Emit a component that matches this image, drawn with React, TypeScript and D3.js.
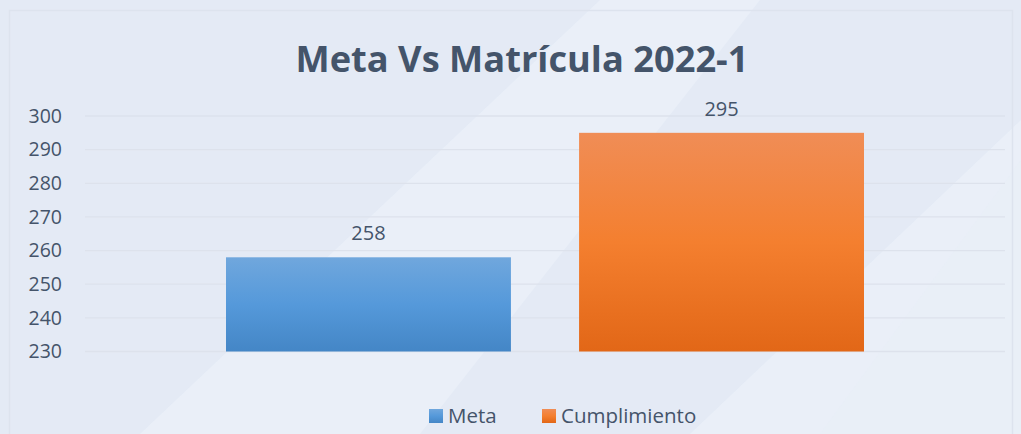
import React from 'react';
import * as d3 from 'd3';

const categories = ['2022-1'];
const seriesNames = ['Meta', 'Cumplimiento'];
const seriesValues = [258, 295];
const yTicks = [230, 240, 250, 260, 270, 280, 290, 300];

const W = 1021;
const H = 434;
const textColor = '#44546a';
const font = "'Open Sans', 'Noto Sans', sans-serif";

const gradients = [
  { id: 'gMeta', top: '#70a7dd', mid: '#5599da', bottom: '#4486c6' },
  { id: 'gCump', top: '#f08d56', mid: '#f47f2f', bottom: '#e26717' },
];

const App: React.FC = () => {
  const margin = { left: 85, right: 16, top: 116, bottom: 82 };
  const y = d3.scaleLinear().domain([230, 300]).range([351.5, 116]);
  const x0 = d3.scaleBand().domain(categories).range([margin.left, 1005]);
  const x1 = d3
    .scaleBand()
    .domain(seriesNames)
    .range([x0('2022-1')! + 141, x0('2022-1')! + x0.bandwidth() - 141])
    .paddingInner(0.193);

  return (
    <svg width={W} height={H} style={{ position: 'absolute', left: 0, top: 0 }}>
      <defs>
        {gradients.map((g) => (
          <linearGradient key={g.id} id={g.id} x1="0" y1="0" x2="0" y2="1">
            <stop offset="0%" stopColor={g.top} />
            <stop offset="50%" stopColor={g.mid} />
            <stop offset="100%" stopColor={g.bottom} />
          </linearGradient>
        ))}
      </defs>
      <rect x={0} y={0} width={W} height={H} fill="#e4eaf5" />
      {/* diagonal light bands */}
      <polygon points="140,434 420,434 760,0 600,0" fill="#eaf0f8" opacity={0.9} />
      <polygon points="690,434 1021,434 1021,120" fill="#eaf0f8" opacity={0.9} />
      <polygon points="820,434 1021,434 1021,160" fill="#e8eef7" opacity={0.6} />
      <rect x={9.5} y={10.5} width={1003} height={440} fill="none" stroke="#dde3ee" strokeWidth={1.5} />

      <text
        x={522}
        y={72}
        textAnchor="middle"
        fontFamily={font}
        fontWeight={700}
        fontSize={35}
        textLength={453}
        lengthAdjust="spacingAndGlyphs"
        fill={textColor}
      >
        Meta Vs Matrícula 2022-1
      </text>

      {yTicks.map((t) => (
        <g key={t}>
          <line x1={margin.left} x2={1005} y1={y(t)} y2={y(t)} stroke="#dde2ec" strokeWidth={1.3} />
          <text
            x={62}
            y={y(t)}
            dy="0.35em"
            textAnchor="end"
            fontFamily={font}
            fontSize={19.5}
            fill={textColor}
          >
            {t}
          </text>
        </g>
      ))}

      {seriesNames.map((s, i) => {
        const bx = x1(s)!;
        const v = seriesValues[i];
        return (
          <g key={s}>
            <rect
              x={bx}
              y={y(v)}
              width={x1.bandwidth()}
              height={y(230) - y(v)}
              fill={`url(#${gradients[i].id})`}
            />
            <text
              x={bx + x1.bandwidth() / 2}
              y={y(v) - 17}
              textAnchor="middle"
              fontFamily={font}
              fontSize={20}
              fill={textColor}
            >
              {v}
            </text>
          </g>
        );
      })}

      {seriesNames.map((s, i) => {
        const lx = i === 0 ? 429 : 542;
        return (
          <g key={s}>
            <rect x={lx} y={409} width={14} height={14} fill={`url(#${gradients[i].id})`} />
            <text x={lx + 19} y={416} dy="0.35em" fontFamily={font} fontSize={20.5} fill={textColor}>
              {s}
            </text>
          </g>
        );
      })}
    </svg>
  );
};

export default App;
